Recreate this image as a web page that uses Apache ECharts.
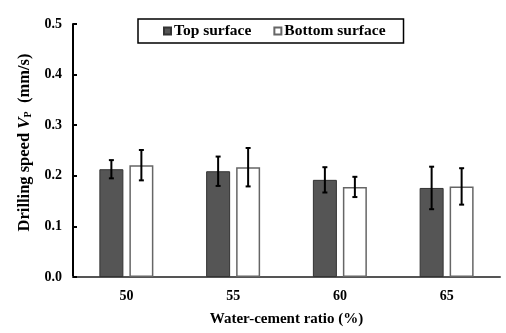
<!DOCTYPE html>
<html>
<head>
<meta charset="utf-8">
<script src="https://cdn.jsdelivr.net/npm/echarts@6/dist/echarts.min.js"></script>
<style>
  html, body { margin: 0; padding: 0; background: #fff; }
  #chart { width: 506px; height: 333px; }
</style>
</head>
<body>
<div id="chart"></div>
<script>
// values
const ratios = ["50", "55", "60", "65"];
const topSurface = [0.213, 0.209, 0.192, 0.176];
const topErr = [0.018, 0.029, 0.025, 0.042];
const bottomSurface = [0.221, 0.217, 0.178, 0.179];
const bottomErr = [0.030, 0.038, 0.020, 0.036];

const font = "'Liberation Serif', 'DejaVu Serif', serif";
const barW = 24;
const gap = 6;

// error bars drawn over the bar centres
const errSeries = (vals, errs, offset) => ({
  type: "custom",
  z: 5,
  silent: true,
  data: vals.map((v, i) => [i, v - errs[i], v + errs[i]]),
  renderItem: (params, api) => {
    const lo = api.coord([api.value(0), api.value(1)]);
    const hi = api.coord([api.value(0), api.value(2)]);
    const x = lo[0] + offset;
    const cap = 2.5;
    const style = { stroke: "#000", lineWidth: 2 };
    return {
      type: "group",
      children: [
        { type: "line", shape: { x1: x, y1: lo[1], x2: x, y2: hi[1] }, style },
        { type: "line", shape: { x1: x - cap, y1: lo[1], x2: x + cap, y2: lo[1] }, style },
        { type: "line", shape: { x1: x - cap, y1: hi[1], x2: x + cap, y2: hi[1] }, style },
      ],
    };
  },
});

const chart = echarts.init(document.getElementById("chart"));
chart.setOption({
  animation: false,
  grid: { left: 73, right: 6, top: 24, bottom: 56 },
  legend: {
    data: ["Top surface", "Bottom surface"],
    left: 138,
    top: 19,
    padding: [4, 18, 4, 25],
    itemGap: 22,
    itemWidth: 7,
    itemHeight: 7,
    icon: "rect",
    borderColor: "#000",
    borderWidth: 1.5,
    textStyle: { fontFamily: font, fontWeight: "bold", fontSize: 15.5, color: "#000", padding: [0, 0, 0, -2] },
  },
  xAxis: {
    type: "category",
    data: ratios,
    name: "Water-cement ratio (%)",
    nameLocation: "middle",
    nameGap: 35,
    nameTextStyle: { fontFamily: font, fontWeight: "bold", fontSize: 15, color: "#000" },
    axisLine: { lineStyle: { color: "#555", width: 2 } },
    axisTick: { show: false },
    axisLabel: { fontFamily: font, fontWeight: "bold", fontSize: 14, color: "#000", margin: 12 },
  },
  yAxis: {
    type: "value",
    min: 0,
    max: 0.5,
    interval: 0.1,
    name: "{t|Drilling speed }{i|V}{s|P}{t|  (mm/s)}",
    nameLocation: "middle",
    nameGap: 36,
    nameRotate: 90,
    nameTextStyle: {
      padding: [0, 0, 0, 16],
      rich: {
        t: { fontFamily: font, fontWeight: "bold", fontSize: 16.5, color: "#000" },
        i: { fontFamily: font, fontWeight: "bold", fontStyle: "italic", fontSize: 17, color: "#000" },
        s: { fontFamily: font, fontWeight: "bold", fontSize: 10, color: "#000", verticalAlign: "bottom", padding: [7, 0, 0, 0] },
      },
    },
    splitLine: { show: false },
    axisLine: { show: true, lineStyle: { color: "#000", width: 2 } },
    axisTick: { show: true, inside: true, length: 4, lineStyle: { color: "#000", width: 2 } },
    axisLabel: {
      fontFamily: font, fontWeight: "bold", fontSize: 14, color: "#000", margin: 11,
      formatter: (v) => v.toFixed(1),
    },
  },
  series: [
    {
      name: "Top surface",
      type: "bar",
      data: topSurface,
      barWidth: barW,
      barGap: (gap / barW * 100) + "%",
      itemStyle: { color: "#555555", borderColor: "#333", borderWidth: 1 },
    },
    {
      name: "Bottom surface",
      type: "bar",
      data: bottomSurface,
      barWidth: barW,
      itemStyle: { color: "#ffffff", borderColor: "#666", borderWidth: 1.5 },
    },
    errSeries(topSurface, topErr, -(barW + gap) / 2),
    errSeries(bottomSurface, bottomErr, (barW + gap) / 2),
  ],
});
</script>
</body>
</html>
